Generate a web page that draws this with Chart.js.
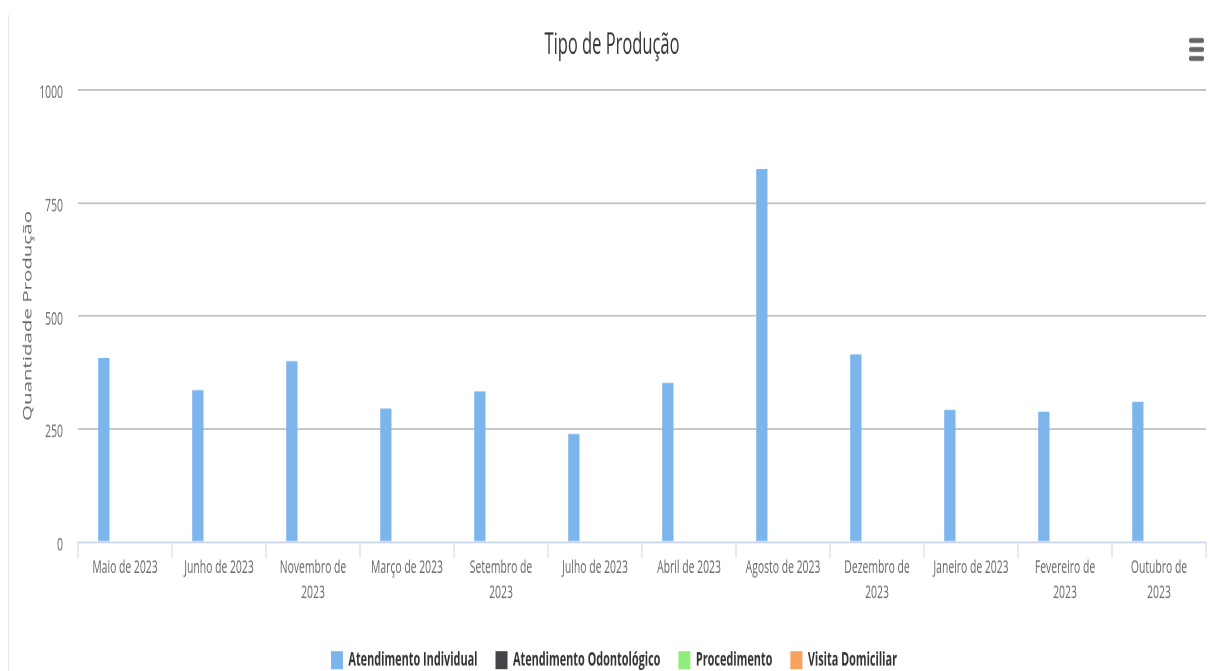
<!DOCTYPE html>
<html>
<head>
<meta charset="utf-8">
<title>Tipo de Produção</title>
<script src="https://cdn.jsdelivr.net/npm/chart.js@4.4.0/dist/chart.umd.min.js"></script>
<style>
html,body{margin:0;padding:0;background:#fff;overflow:hidden;}
/* chart is drawn flat and then stretched vertically, like the screenshot */
#wrap{position:absolute;left:0;top:0;width:1212px;height:373px;transform:scaleY(1.79893);transform-origin:0 0;}
#myBarChart{display:block;width:1212px;height:373px;}
</style>
</head>
<body>
<div id="wrap"><canvas id="myBarChart" width="1212" height="373"></canvas></div>
<script>
var categories = ["Maio de 2023", "Junho de 2023", "Novembro de 2023", "Março de 2023", "Setembro de 2023", "Julho de 2023",
                  "Abril de 2023", "Agosto de 2023", "Dezembro de 2023", "Janeiro de 2023", "Fevereiro de 2023", "Outubro de 2023"];
var tick_labels = [["Maio de 2023"], ["Junho de 2023"], ["Novembro de", "2023"], ["Março de 2023"], ["Setembro de", "2023"], ["Julho de 2023"],
                   ["Abril de 2023"], ["Agosto de 2023"], ["Dezembro de", "2023"], ["Janeiro de 2023"], ["Fevereiro de", "2023"], ["Outubro de", "2023"]];
var atendimento_individual = [407, 336, 400, 295, 333, 239, 352, 825, 415, 292, 288, 310];
var atendimento_odontologico = [0, 0, 0, 0, 0, 0, 0, 0, 0, 0, 0, 0];
var procedimento = [0, 0, 0, 0, 0, 0, 0, 0, 0, 0, 0, 0];
var visita_domiciliar = [0, 0, 0, 0, 0, 0, 0, 0, 0, 0, 0, 0];
var y_ticks = [0, 250, 500, 750, 1000];

var FONT = "'Open Sans', 'Liberation Sans', sans-serif";
var H = 373;              // unstretched canvas height
var PLOT_BOTTOM = 301.3;  // 542px on screen

class producao_chart {
    constructor() {
        document.char = this;
        this.legend_dx = 11;
        this.legend_dy = 9.4;
        this.title_dx = 9;
        this.bar_chart();
    }

    extras() {
        return {
            id: "extras",
            beforeDraw: function (chart) {
                var ctx = chart.ctx;
                ctx.save();
                ctx.strokeStyle = "#e6e6e6";
                ctx.lineWidth = 1;
                ctx.beginPath();
                ctx.moveTo(8.5, 8.3);
                ctx.lineTo(8.5, H);
                ctx.stroke();
                ctx.restore();
            },
            afterLayout: function (chart) {
                var me = document.char;
                var l = chart.legend;
                l.left += me.legend_dx; l.right += me.legend_dx;
                l.top += me.legend_dy; l.bottom += me.legend_dy;
                var t = chart.titleBlock;
                t.left += me.title_dx; t.right += me.title_dx;
            },
            afterDraw: function (chart) {
                // export menu icon
                var ctx = chart.ctx;
                ctx.save();
                ctx.fillStyle = "#666";
                for (var i = 0; i < 3; i++) {
                    ctx.beginPath();
                    ctx.roundRect(1189, 21.1 + i * 5, 15, 2.8, 1.4);
                    ctx.fill();
                }
                ctx.restore();
            }
        };
    }

    bar_chart() {
        var ctx = document.getElementById("myBarChart");
        var mk = function (label, color, data) {
            return { label: label, backgroundColor: color, borderWidth: 0, data: data,
                     categoryPercentage: 0.6, barPercentage: 0.8 };
        };
        this.chart = new Chart(ctx, {
            type: "bar",
            data: {
                labels: categories,
                datasets: [
                    mk("Atendimento Individual", "#7cb5ec", atendimento_individual),
                    mk("Atendimento Odontológico", "#434348", atendimento_odontologico),
                    mk("Procedimento", "#90ed7d", procedimento),
                    mk("Visita Domiciliar", "#f7a35c", visita_domiciliar)
                ]
            },
            plugins: [this.extras()],
            options: {
                responsive: false,
                animation: false,
                devicePixelRatio: 2,
                events: [],
                layout: { padding: { left: 0, right: 6, top: 0, bottom: 0 } },
                plugins: {
                    title: {
                        display: true, text: "Tipo de Produção", color: "#333",
                        font: { family: FONT, size: 16.5, weight: "normal", lineHeight: 1.2 },
                        padding: { top: 15.4, bottom: 14.8 }
                    },
                    legend: {
                        position: "bottom",
                        labels: {
                            color: "#333", boxWidth: 12, boxHeight: 10, padding: 18,
                            font: { family: FONT, size: 10.9, weight: "bold" }
                        }
                    },
                    tooltip: { enabled: false }
                },
                scales: {
                    x: {
                        grid: { offset: true, drawOnChartArea: false, drawTicks: true, tickLength: 9, color: "#ccd6eb" },
                        border: { color: "#ccd6eb", width: 1 },
                        ticks: {
                            color: "#666", maxRotation: 0, autoSkip: false, padding: -2,
                            font: { family: FONT, size: 10.4, lineHeight: 1.36 },
                            callback: function (v, i) { return tick_labels[i]; }
                        },
                        afterFit: function (s) { s.height = H - PLOT_BOTTOM - s.chart.legend.height; }
                    },
                    y: {
                        min: y_ticks[0], max: y_ticks[y_ticks.length - 1],
                        afterBuildTicks: function (s) { s.ticks = y_ticks.map(function (v) { return { value: v }; }); },
                        grid: {
                            drawTicks: false, lineWidth: 1,
                            color: function (c) { return c.tick && c.tick.value === 0 ? "rgba(0,0,0,0)" : "#c4c4c4"; }
                        },
                        border: { display: false },
                        ticks: {
                            color: "#666", padding: 15, labelOffset: 1.7, font: { family: FONT, size: 10.4 },
                            callback: function (v) { return String(v); }
                        },
                        title: {
                            display: true, text: "Quantidade Produção", color: "#666",
                            font: { family: FONT, size: 11.4, weight: "normal" },
                            padding: { top: 21.2, bottom: 0 }
                        },
                        afterFit: function (s) { s.width = 78; }
                    }
                }
            }
        });
    }
}

new producao_chart();
</script>
</body>
</html>
